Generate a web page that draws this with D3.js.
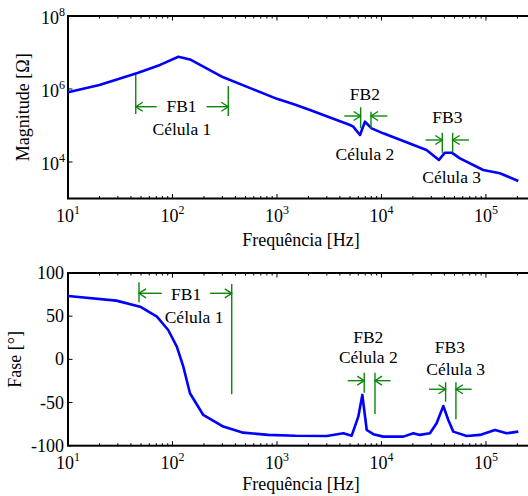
<!DOCTYPE html>
<html><head><meta charset="utf-8">
<script src="https://cdn.jsdelivr.net/npm/d3@7"></script>
<style>body{margin:0;background:#fff} svg{display:block}</style>
</head><body><svg id="c" width="528" height="496" font-family="'Liberation Serif', 'Times New Roman', Times, 'DejaVu Serif', serif"></svg>
<script>
// ---- data ----
const freqMag = [10, 20, 47, 76, 114, 147, 212, 306, 594, 1000, 1430, 2070, 5000, 5370, 6230, 6950, 8050, 10400, 27000, 35500, 40500, 47000, 56400, 94200, 136000, 204000];
const magnitude = [8.13e5, 1.29e6, 2.8e6, 4.57e6, 7.67e6, 6.46e6, 3.68e6, 2.09e6, 9.77e5, 5.37e5, 3.89e5, 2.66e5, 1.03e5, 9.33e4, 5.5e4, 1.27e5, 8.32e4, 6.1e4, 2.14e4, 1.14e4, 1.8e4, 1.8e4, 1.26e4, 6.03e3, 4.9e3, 3.02e3];
const freqPhase = [10, 29, 49, 71, 91, 110, 127, 147, 197, 306, 475, 826, 1500, 3000, 4320, 5190, 6000, 6560, 7230, 8360, 10400, 16200, 20200, 23300, 29100, 33700, 39100, 43600, 48700, 65400, 87700, 122000, 158000, 204000];
const phase = [73.4, 68, 61, 49.5, 34, 14.7, -8.5, -39.3, -64.4, -77.9, -84.9, -87.5, -88.5, -88.7, -85.6, -88.4, -66.4, -41.2, -81.8, -86.7, -89.5, -89.5, -85.6, -87.5, -85.6, -74, -54, -70.2, -83.7, -88.7, -87.5, -81.8, -85.6, -83.7];
const xTickExponents = [1, 2, 3, 4, 5];
const magTickExponents = [4, 6, 8];
const phaseTicks = [-100, -50, 0, 50, 100];
const bandNames = ["FB1", "FB2", "FB3"];
const cellNames = ["Célula 1", "Célula 2", "Célula 3"];
// annotation anchors (data coordinates)
const magBands = [
  {f1:44.5, f2:342, l1:[2.42e6,2.07e5], l2:[1.21e6,1.82e5], ay:3.27e5, t1:70.6, t2:212, fb:[122,2.4e5], cel:[123,5.5e4]},
  {f1:6320, f2:7940, l1:[3.16e5,8.4e4], l2:[2.39e5,8.4e4], ay:1.82e5, t1:4410, t2:11400, fb:[6950,5.0e5], cel:[6950,1.14e4]},
  {f1:38200, f2:48000, l1:[6.35e4,1.8e4], l2:[6.35e4,1.8e4], ay:4.01e4, t1:26500, t2:68700, fb:[42700,1.15e5], cel:[47000,2.61e3]}
];
const phaseBands = [
  {f1:47.8, f2:369, l1:[89.3,66.1], l2:[87.3,-40.4], ay:76.5, t1:78.9, t2:229, fb:[135,68.8], cel:[161,42.5]},
  {f1:6840, f2:8670, l1:[-15.4,-38.6], l2:[-15.4,-63.2], ay:-24.7, t1:4750, t2:12200, fb:[7480,19.3], cel:[7480,-4.5]},
  {f1:41100, f2:51600, l1:[-26.5,-49], l2:[-26.5,-69.4], ay:-34.6, t1:28500, t2:72900, fb:[45200,7.1], cel:[51300,-18.1]}
];

// ---- layout ----
const svg = d3.select("#c");
const L = 68, R = 535.8;
const x = d3.scaleLog().domain([10, 3e5]).range([L, R]);
const pTop = {y: d3.scaleLog().domain([1e3, 1e8]).range([198.5, 16]), t: 16, b: 198.5};
const pBot = {y: d3.scaleLinear().domain([-100, 100]).range([445.7, 273]), t: 273, b: 445.7};
const GREEN = "#0a870a", BLUE = "#0000ff";
const minorX = [];
for (let e = 1; e <= 5; e++) for (let m = 2; m <= 9; m++) { const v = m * Math.pow(10, e); if (v <= 3e5) minorX.push(v); }

function frame(p) {
  const g = svg.append("g");
  xTickExponents.forEach(e => {
    const xx = x(Math.pow(10, e));
    g.append("line").attr("x1", xx).attr("x2", xx).attr("y1", p.b).attr("y2", p.b - 4.5).attr("stroke", "#000").attr("stroke-width", 1);
    g.append("line").attr("x1", xx).attr("x2", xx).attr("y1", p.t).attr("y2", p.t + 4.5).attr("stroke", "#000").attr("stroke-width", 1);
  });
  minorX.forEach(v => {
    const xx = x(v);
    g.append("line").attr("x1", xx).attr("x2", xx).attr("y1", p.b).attr("y2", p.b - 2.5).attr("stroke", "#000").attr("stroke-width", 1);
    g.append("line").attr("x1", xx).attr("x2", xx).attr("y1", p.t).attr("y2", p.t + 2.5).attr("stroke", "#000").attr("stroke-width", 1);
  });
  g.append("rect").attr("x", L).attr("y", p.t).attr("width", R - L).attr("height", p.b - p.t)
    .attr("fill", "none").attr("stroke", "#000").attr("stroke-width", 2);
  xTickExponents.forEach(e => {
    const t = g.append("text").attr("x", x(Math.pow(10, e))).attr("y", p.b + 23).attr("text-anchor", "middle").attr("font-size", 18);
    t.append("tspan").text("10");
    t.append("tspan").attr("font-size", 12).attr("dy", -8).text(e);
  });
  return g;
}

function bands(g, ys, list) {
  list.forEach((b, i) => {
    const ln = (x1, y1, x2, y2) => g.append("line").attr("x1", x1).attr("y1", y1).attr("x2", x2).attr("y2", y2)
      .attr("stroke", GREEN).attr("stroke-width", 1.4);
    ln(x(b.f1), ys(b.l1[0]), x(b.f1), ys(b.l1[1]));
    ln(x(b.f2), ys(b.l2[0]), x(b.f2), ys(b.l2[1]));
    const ay = ys(b.ay);
    [[b.t1, b.f1], [b.t2, b.f2]].forEach(([tf, hf]) => {
      const tx = x(tf), hx = x(hf), d = Math.sign(hx - tx);
      ln(tx, ay, hx, ay);
      g.append("path").attr("d", `M${hx - d * 7},${ay - 4.5}L${hx},${ay}L${hx - d * 7},${ay + 4.5}`)
        .attr("fill", "none").attr("stroke", GREEN).attr("stroke-width", 1.4);
    });
    g.append("text").attr("x", x(b.fb[0])).attr("y", ys(b.fb[1])).attr("text-anchor", "middle").attr("font-size", 17.5).text(bandNames[i]);
    g.append("text").attr("x", x(b.cel[0])).attr("y", ys(b.cel[1])).attr("text-anchor", "middle").attr("font-size", 17.5).text(cellNames[i]);
  });
}

// ---- top: magnitude ----
const g1 = frame(pTop);
magTickExponents.forEach(e => {
  const yy = pTop.y(Math.pow(10, e));
  g1.append("line").attr("x1", L).attr("x2", L + 4.5).attr("y1", yy).attr("y2", yy).attr("stroke", "#000");
  const t = g1.append("text").attr("x", 65).attr("y", yy + 8).attr("text-anchor", "end").attr("font-size", 18);
  t.append("tspan").text("10");
  t.append("tspan").attr("font-size", 12).attr("dy", -8).text(e);
});
const magPts = freqMag.map((f, i) => [f, magnitude[i]]);
g1.append("path").datum(magPts).attr("fill", "none").attr("stroke", BLUE).attr("stroke-width", 2.6).attr("stroke-linejoin", "round")
  .attr("d", d3.line().x(d => x(d[0])).y(d => pTop.y(d[1])));
bands(g1, pTop.y, magBands);
g1.append("text").attr("x", 301).attr("y", 246).attr("text-anchor", "middle").attr("font-size", 18).text("Frequência [Hz]");
g1.append("text").attr("transform", `translate(29,${(pTop.t + pTop.b) / 2}) rotate(-90)`).attr("text-anchor", "middle").attr("font-size", 18).text("Magnitude [Ω]");

// ---- bottom: phase ----
const g2 = frame(pBot);
phaseTicks.forEach(v => {
  const yy = pBot.y(v);
  g2.append("line").attr("x1", L).attr("x2", L + 4.5).attr("y1", yy).attr("y2", yy).attr("stroke", "#000");
  g2.append("text").attr("x", 64).attr("y", yy + 6).attr("text-anchor", "end").attr("font-size", 18).text(v);
});
const phPts = freqPhase.map((f, i) => [f, phase[i]]);
g2.append("path").datum(phPts).attr("fill", "none").attr("stroke", BLUE).attr("stroke-width", 2.6).attr("stroke-linejoin", "round")
  .attr("d", d3.line().x(d => x(d[0])).y(d => pBot.y(d[1])));
bands(g2, pBot.y, phaseBands);
g2.append("text").attr("x", 301).attr("y", 490).attr("text-anchor", "middle").attr("font-size", 18).text("Frequência [Hz]");
g2.append("text").attr("transform", `translate(21,${(pBot.t + pBot.b) / 2}) rotate(-90)`).attr("text-anchor", "middle").attr("font-size", 18).text("Fase [°]");
</script>
</body></html>
